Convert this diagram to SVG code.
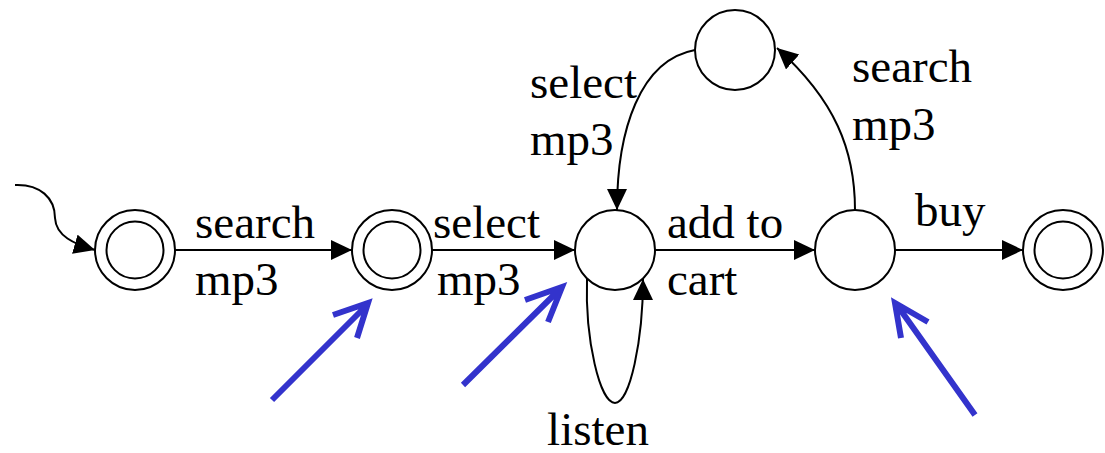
<svg xmlns="http://www.w3.org/2000/svg" width="1105" height="453" viewBox="0 0 1105 453">
<style>
.st{fill:#fff;stroke:#000;stroke-width:2}
.e{fill:none;stroke:#000;stroke-width:2}
.b{fill:none;stroke:#3333CC;stroke-width:6;stroke-linecap:butt}
text{font-family:"Liberation Serif","Times New Roman",serif;font-size:47px;fill:#000}
</style>
<defs>
<marker id="ah" markerUnits="userSpaceOnUse" markerWidth="24" markerHeight="22" refX="21" refY="10" orient="auto">
<path d="M0,0 L21,10 L0,20 Z" fill="#000"/>
</marker>
</defs>
<rect width="1105" height="453" fill="#fff"/>
<g id="connectors">
<path class="e" d="M15,185 C40,184 55,198 55,218 C56,236 74,244 95,250" marker-end="url(#ah)"/>
<path class="e" d="M175,250 L352,250" marker-end="url(#ah)"/>
<path class="e" d="M432,250 L575,250" marker-end="url(#ah)"/>
<path class="e" d="M655,250 L815,250" marker-end="url(#ah)"/>
<path class="e" d="M895,250 L1023,250" marker-end="url(#ah)"/>
<path class="e" d="M855,210 C855,150 835,100 777,48" marker-end="url(#ah)"/>
<path class="e" d="M695,50 C640,60 617,130 617,210" marker-end="url(#ah)"/>
<path class="e" d="M587,279 C585,340 600,403 615,403 C630,403 643,340 643,279" marker-end="url(#ah)"/>
</g>
<g id="n1"><circle class="st" cx="135" cy="250" r="40"/><circle class="st" cx="135" cy="250" r="28.5"/></g>
<g id="n2"><circle class="st" cx="392" cy="250" r="40"/><circle class="st" cx="392" cy="250" r="28.5"/></g>
<g id="n3"><circle class="st" cx="615" cy="250" r="40"/></g>
<g id="n4"><circle class="st" cx="855" cy="250" r="40"/></g>
<g id="n5"><circle class="st" cx="735" cy="50" r="40"/></g>
<g id="n6"><circle class="st" cx="1063" cy="250" r="40"/><circle class="st" cx="1063" cy="250" r="28.5"/></g>
<g id="labels">
<text x="195" y="238">search</text>
<text x="195" y="295">mp3</text>
<text x="433" y="238">select</text>
<text x="437" y="295">mp3</text>
<text x="667" y="238">add to</text>
<text x="667" y="295">cart</text>
<text x="915" y="226">buy</text>
<text x="852" y="82">search</text>
<text x="852" y="140">mp3</text>
<text x="530" y="98">select</text>
<text x="530" y="155">mp3</text>
<text x="598" y="445" text-anchor="middle">listen</text>
</g>
<g id="pointers">
<path class="b" d="M272,400 L368,304 M333,315 L368,303 L357,338"/>
<path class="b" d="M463,385 L560,289 M525,300 L562,287 L548,322"/>
<path class="b" d="M975,415 L897,305 M928,322 L895,303 L901,338"/>
</g>
</svg>
